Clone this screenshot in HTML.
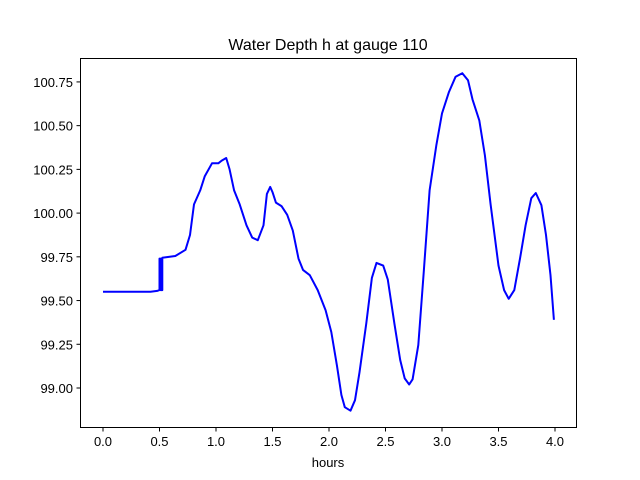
<!DOCTYPE html>
<html><head><meta charset="utf-8"><style>
body{margin:0;background:#fff;}
svg{display:block;font-family:"Liberation Sans","DejaVu Sans",sans-serif;}
</style></head><body>
<svg id="chart" width="640" height="480">
<rect x="0" y="0" width="640" height="480" fill="#fff"/>
<text x="328" y="50" text-anchor="middle" font-size="16">Water Depth h at gauge 110</text>
<text x="328" y="467" text-anchor="middle" font-size="13">hours</text>
<g id="ticks"></g>
<path id="line" fill="none" stroke="#0000ff" stroke-width="2" stroke-linejoin="round"/>
<rect x="80.5" y="58.5" width="496" height="369" fill="none" stroke="#000" stroke-width="1"/>
</svg>
<script>
const hours=[0,0.42,0.48,0.50,0.50,0.51,0.51,0.525,0.525,0.64,0.73,0.77,0.805,0.86,0.90,0.965,1.02,1.05,1.09,1.12,1.16,1.21,1.27,1.32,1.37,1.42,1.45,1.48,1.50,1.53,1.58,1.63,1.68,1.73,1.77,1.83,1.90,1.97,2.02,2.07,2.11,2.14,2.19,2.23,2.27,2.33,2.38,2.42,2.48,2.52,2.58,2.63,2.67,2.71,2.74,2.79,2.84,2.89,2.95,3.00,3.06,3.12,3.18,3.23,3.27,3.33,3.38,3.43,3.50,3.55,3.59,3.64,3.69,3.74,3.79,3.83,3.88,3.92,3.96,3.99];
const depth=[99.55,99.55,99.555,99.56,99.74,99.74,99.56,99.56,99.745,99.755,99.79,99.875,100.05,100.13,100.21,100.285,100.285,100.30,100.315,100.25,100.13,100.05,99.93,99.86,99.845,99.93,100.11,100.15,100.12,100.06,100.04,99.99,99.90,99.74,99.675,99.645,99.56,99.445,99.32,99.13,98.96,98.89,98.87,98.93,99.09,99.37,99.63,99.715,99.70,99.62,99.365,99.16,99.055,99.02,99.05,99.245,99.675,100.13,100.39,100.57,100.69,100.78,100.80,100.76,100.65,100.53,100.33,100.05,99.70,99.56,99.51,99.56,99.74,99.93,100.085,100.115,100.045,99.875,99.645,99.39];
const xTicks=[0.0,0.5,1.0,1.5,2.0,2.5,3.0,3.5,4.0];
const yTicks=[99.00,99.25,99.50,99.75,100.00,100.25,100.50,100.75];
const X=v=>103+v*113;
const Y=v=>388-(v-99)*174.9;
const NS="http://www.w3.org/2000/svg";
const g=document.getElementById('ticks');
function mk(tag,attrs,txt){const e=document.createElementNS(NS,tag);for(const k in attrs)e.setAttribute(k,attrs[k]);if(txt!==undefined)e.textContent=txt;g.appendChild(e);return e;}
xTicks.forEach(t=>{
  const l=mk('line',{x1:X(t),x2:X(t),y1:427.5,y2:431.5,stroke:'#000'});
  
  
  const s=mk('text',{x:X(t),y:446,'text-anchor':'middle','font-size':'13'},t.toFixed(1));
  
  
});
yTicks.forEach(t=>{
  const l=mk('line',{x1:76.5,x2:80.5,y1:Y(t),y2:Y(t),stroke:'#000'});
  
  
  const s=mk('text',{x:73,y:Y(t)+5,'text-anchor':'end','font-size':'13'},t.toFixed(2));
  
  
});
document.getElementById('line').setAttribute('d',hours.map((h,i)=>(i?'L':'M')+X(h).toFixed(1)+','+Y(depth[i]).toFixed(1)).join(''));
</script>
</body></html>
